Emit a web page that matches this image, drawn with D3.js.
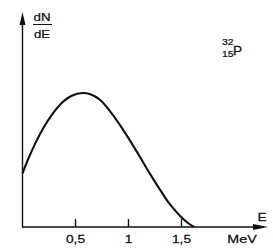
<!DOCTYPE html>
<html><head><meta charset="utf-8">
<script src="https://cdn.jsdelivr.net/npm/d3@7"></script>
<style>body{margin:0;background:#fff}svg{display:block}text{font-family:"Liberation Sans",Arial,sans-serif;fill:#111;stroke:#111;stroke-width:0.25}</style>
</head><body><svg id="c" width="273" height="249"></svg>
<script>
const energy = [0,0.05,0.115,0.19,0.27,0.37,0.46,0.57,0.64,0.73,0.825,0.92,1.01,1.11,1.2,1.3,1.39,1.49,1.56,1.62];
const counts = [0.40,0.50,0.615,0.73,0.83,0.925,0.978,1.0,0.99,0.95,0.865,0.76,0.65,0.52,0.40,0.275,0.17,0.08,0.03,0];
const tickValues = [0.5,1,1.5];
const tickLabels = ["0,5","1","1,5"];

const svg = d3.select("#c");
const x = d3.scaleLinear().domain([0,1]).range([22.5,128.5]);
const y = d3.scaleLinear().domain([0,1]).range([227,93]);
const ink = "#111";

function label(px, py, txt, size, anchor, sx) {
  const g = svg.append("g").attr("transform", `translate(${px},${py}) scale(${sx||1.25},1)`);
  g.append("text").attr("text-anchor", anchor||"middle").attr("font-size", size).text(txt);
}

// axes
svg.append("line").attr("x1",x(0)).attr("x2",256).attr("y1",y(0)).attr("y2",y(0)).attr("stroke",ink).attr("stroke-width",1.4);
svg.append("line").attr("x1",x(0)).attr("x2",x(0)).attr("y1",y(0)+0.7).attr("y2",22).attr("stroke",ink).attr("stroke-width",1.4);
// arrowheads
svg.append("path").attr("d",`M${x(0)},12 L${x(0)-3},25 L${x(0)+3},25 Z`).attr("fill",ink);
svg.append("path").attr("d",`M268,${y(0)} L253,${y(0)-3} L253,${y(0)+3} Z`).attr("fill",ink);

// ticks
svg.selectAll("line.t").data(tickValues).join("line").attr("class","t")
 .attr("x1",d=>x(d)).attr("x2",d=>x(d)).attr("y1",y(0)).attr("y2",y(0)-8)
 .attr("stroke",ink).attr("stroke-width",1.4);
tickValues.forEach((d,i)=>label(x(d), 243, tickLabels[i], 11, "middle"));

label(242, 243, "MeV", 11, "middle", 1.3);
label(262, 221, "E", 11, "middle");

// y label
label(42, 21, "dN", 11, "middle", 1.2);
svg.append("line").attr("x1",33).attr("x2",52).attr("y1",24.5).attr("y2",24.5).attr("stroke",ink).attr("stroke-width",1);
label(42, 38, "dE", 11, "middle", 1.2);

// isotope
label(222, 45, "32", 9, "start", 1.15);
label(222, 57, "15", 9, "start", 1.15);
label(233, 55, "P", 13, "start", 1.05);

// curve
const line = d3.line().x((d,i)=>x(energy[i])).y(d=>y(d)).curve(d3.curveCatmullRom.alpha(0.5));
svg.append("path").attr("d",line(counts)).attr("fill","none").attr("stroke",ink).attr("stroke-width",2.1);
</script></body></html>
